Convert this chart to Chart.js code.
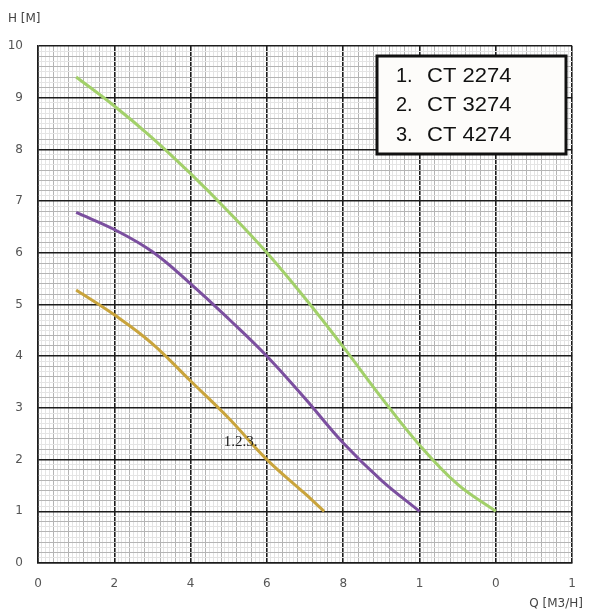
<!DOCTYPE html>
<html>
<head>
<meta charset="utf-8">
<script src="https://cdn.jsdelivr.net/npm/chart.js@4/dist/chart.umd.min.js"></script>
<style>
  html, body { margin: 0; padding: 0; background: #fff; }
  #wrap { width: 590px; height: 615px; }
</style>
</head>
<body>
<div id="wrap"><canvas id="chart"></canvas></div>
<script>
// flow Q (m3/h) and head H (m)
const flow2274 = [1, 2, 3, 4, 5, 6, 7, 7.5];
const head2274 = [5.28, 4.8, 4.24, 3.52, 2.8, 2.0, 1.34, 1.0];

const flow3274 = [1, 2, 3, 4, 5, 6, 7, 8, 9, 10];
const head3274 = [6.78, 6.45, 6.02, 5.4, 4.72, 4.0, 3.18, 2.32, 1.6, 1.0];

const flow4274 = [1, 2, 3, 4, 5, 6, 7, 8, 9, 10, 11, 12];
const head4274 = [9.4, 8.84, 8.22, 7.53, 6.79, 6.0, 5.12, 4.18, 3.2, 2.28, 1.52, 1.0];

const models = ['CT 2274', 'CT 3274', 'CT 4274'];
const xTickLabels = ['0', '2', '4', '6', '8', '1', '0', '1'];
const yTickLabels = ['0', '1', '2', '3', '4', '5', '6', '7', '8', '9', '10'];

const toPoints = (xs, ys) => xs.map((x, i) => ({ x, y: ys[i] }));

const DARK = '#1c1c1c';

function gridColor(k, majorEvery, midEvery) {
  if (k % majorEvery === 0) return DARK;
  if (k % midEvery === 0) return '#b4b4b4';
  return '#e4e4e4';
}

const textPlugin = {
  id: 'texts',
  afterDraw(chart) {
    const c = chart.ctx;
    const { x, y } = chart.scales;
    c.save();
    c.fillStyle = '#444';
    c.font = '12px "DejaVu Sans", sans-serif';
    c.textBaseline = 'middle';
    c.textAlign = 'left';
    c.fillText('H [M]', 8, 19);
    c.textAlign = 'right';
    c.fillText('Q [M3/H]', 583, 604);

    // curve tag
    c.fillStyle = '#222';
    c.font = '15px "Liberation Serif", serif';
    c.textAlign = 'left';
    c.fillText('1.2.3.', x.getPixelForValue(4.87), y.getPixelForValue(2.33));

    // model box
    const bx = 377, by = 56, bw = 189, bh = 98;
    c.fillStyle = '#fdfcfa';
    c.fillRect(bx, by, bw, bh);
    c.lineWidth = 3;
    c.strokeStyle = '#111';
    c.strokeRect(bx, by, bw, bh);
    c.fillStyle = '#111';
    c.font = '20px "Liberation Sans", Arial, sans-serif';
    models.forEach((m, i) => {
      const ty = 76 + i * 29.5;
      c.fillText((i + 1) + '.', 396, ty);
      c.save();
      c.translate(427, ty);
      c.scale(1.1, 1);
      c.fillText(m, 0, 0);
      c.restore();
    });
    c.restore();
  }
};

const line = (data, color) => ({
  data,
  borderColor: color,
  borderWidth: 3,
  pointRadius: 0,
  fill: false,
  tension: 0.4,
});

new Chart(document.getElementById('chart'), {
  type: 'line',
  data: {
    datasets: [
      line(toPoints(flow4274, head4274), '#a2d06a'),
      line(toPoints(flow3274, head3274), '#7b4f9f'),
      line(toPoints(flow2274, head2274), '#c9a43c'),
    ],
  },
  options: {
    responsive: true,
    maintainAspectRatio: false,
    animation: false,
    layout: { padding: { left: 0, top: 46, right: 14, bottom: 0 } },
    plugins: { legend: { display: false }, tooltip: { enabled: false } },
    scales: {
      x: {
        type: 'linear',
        min: 0,
        max: 14,
        afterBuildTicks(scale) {
          scale.ticks = [];
          for (let k = 0; k <= 140; k++) scale.ticks.push({ value: k / 10 });
        },
        afterFit(scale) { scale.height = 52; },
        border: { display: true, color: DARK, width: 1.5 },
        grid: {
          drawTicks: false,
          color: (ctx) => gridColor(Math.round(ctx.tick.value * 10), 20, 4),
          lineWidth: (ctx) => (Math.round(ctx.tick.value * 10) % 20 === 0 ? 1.6 : 1),
        },
        ticks: {
          autoSkip: false,
          maxRotation: 0,
          padding: 14,
          color: '#555',
          font: { family: '"DejaVu Sans", sans-serif', size: 12 },
          callback(value) {
            const k = Math.round(value * 10);
            return k % 20 === 0 ? xTickLabels[k / 20] : '';
          },
        },
      },
      y: {
        min: 0,
        max: 10,
        afterBuildTicks(scale) {
          scale.ticks = [];
          for (let k = 0; k <= 100; k++) scale.ticks.push({ value: k / 10 });
        },
        afterFit(scale) { scale.width = 38; },
        border: { display: true, color: DARK, width: 1.5 },
        grid: {
          drawTicks: false,
          color: (ctx) => gridColor(Math.round(ctx.tick.value * 10), 10, 2),
          lineWidth: (ctx) => (Math.round(ctx.tick.value * 10) % 10 === 0 ? 1.6 : 1),
        },
        ticks: {
          autoSkip: false,
          padding: 15,
          color: '#555',
          font: { family: '"DejaVu Sans", sans-serif', size: 12 },
          callback(value) {
            const k = Math.round(value * 10);
            return k % 10 === 0 ? yTickLabels[k / 10] : '';
          },
        },
      },
    },
  },
  plugins: [textPlugin],
});
</script>
</body>
</html>
